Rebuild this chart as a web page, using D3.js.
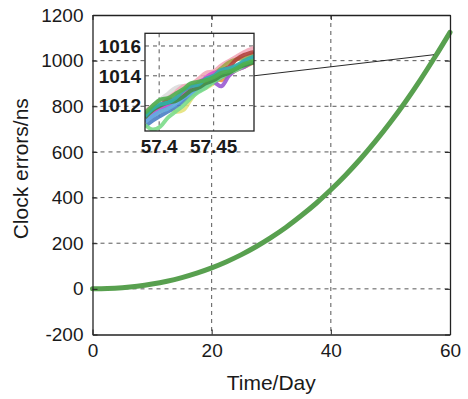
<!DOCTYPE html>
<html>
<head>
<meta charset="utf-8">
<script src="https://cdn.jsdelivr.net/npm/d3@7"></script>
<style>
  html, body { margin: 0; padding: 0; background: #fff; }
  svg { display: block; }
  text { font-family: "Liberation Sans", Arial, Helvetica, sans-serif; fill: #1a1a1a; }
</style>
</head>
<body>
<script>
// Accumulated clock error over two months
const days = [0, 2.5, 5, 7.5, 10, 12.5, 15, 17.5, 20, 22.5, 25, 27.5, 30, 32.5, 35,
              37.5, 40, 42.5, 45, 47.5, 50, 52.5, 55, 57.5, 60];
const clockError = [0, 1.2, 5, 11.5, 21, 33.5, 49.5, 69, 92, 119, 150, 185.5, 225.5, 270, 320,
                    374, 434, 499, 570, 647, 730, 819, 915, 1017, 1124];

const xTicks = [0, 20, 40, 60];
const yTicks = [-200, 0, 200, 400, 600, 800, 1000, 1200];

// Zoomed detail around day 57.4: one trace per clock solution
const zoomDays = [57.387, 57.394, 57.401, 57.408, 57.415, 57.422, 57.429, 57.436, 57.443,
                  57.450, 57.457, 57.464, 57.471, 57.478, 57.487];
const zoomTraces = [
  [1011.3, 1011.6, 1011.9, 1012.0, 1011.6, 1011.7, 1012.4, 1013.0, 1013.2, 1013.5, 1013.9, 1014.2, 1014.5, 1014.9, 1015.2],
  [1011.5, 1011.8, 1012.4, 1012.8, 1013.2, 1013.3, 1012.9, 1013.1, 1013.6, 1013.8, 1014.1, 1014.3, 1014.6, 1014.9, 1015.3],
  [1011.6, 1012.0, 1012.3, 1012.5, 1012.9, 1013.3, 1013.4, 1013.8, 1014.2, 1014.3, 1014.7, 1015.0, 1015.3, 1015.6, 1015.9],
  [1010.9, 1011.3, 1011.6, 1011.9, 1012.3, 1012.6, 1013.0, 1013.2, 1013.5, 1013.9, 1013.7, 1014.1, 1014.4, 1014.6, 1014.9],
  [1011.1, 1011.5, 1011.7, 1012.1, 1012.5, 1012.7, 1013.0, 1013.5, 1013.8, 1014.1, 1014.5, 1014.9, 1015.1, 1015.2, 1015.5],
  [1011.4, 1011.7, 1012.0, 1012.4, 1012.4, 1012.8, 1013.2, 1013.5, 1013.8, 1013.9, 1014.3, 1014.6, 1015.1, 1015.4, 1015.6],
  [1011.0, 1011.3, 1011.8, 1012.0, 1012.3, 1012.5, 1012.9, 1013.5, 1013.8, 1013.6, 1013.3, 1014.0, 1014.4, 1014.6, 1015.0],
  [1011.2, 1011.6, 1011.9, 1012.1, 1012.5, 1012.8, 1013.0, 1013.3, 1013.9, 1014.2, 1014.3, 1014.5, 1014.6, 1014.9, 1015.1],
  [1010.6, 1011.0, 1011.3, 1011.6, 1011.9, 1012.3, 1012.7, 1013.0, 1013.3, 1013.6, 1013.9, 1014.2, 1014.5, 1014.8, 1015.0],
  [1010.9, 1011.3, 1011.6, 1011.8, 1012.1, 1012.5, 1012.8, 1013.0, 1013.3, 1013.7, 1014.0, 1014.3, 1014.6, 1014.8, 1015.2],
  [1010.7, 1010.4, 1010.6, 1011.2, 1011.6, 1012.0, 1012.5, 1012.9, 1013.2, 1013.6, 1013.9, 1014.2, 1014.4, 1014.7, 1015.1],
  [1011.2, 1011.7, 1012.0, 1012.2, 1012.3, 1012.6, 1013.0, 1013.2, 1013.5, 1013.7, 1014.0, 1014.2, 1014.5, 1014.7, 1014.9],
  [1011.3, 1011.8, 1012.1, 1012.2, 1012.5, 1013.0, 1013.3, 1013.4, 1013.8, 1014.0, 1014.4, 1014.5, 1014.7, 1015.0, 1015.3],
  [1011.5, 1012.0, 1012.4, 1012.5, 1012.8, 1013.1, 1013.5, 1013.6, 1013.7, 1013.9, 1014.2, 1014.3, 1014.5, 1014.8, 1015.0]
];
const traceColors = ["#e4e27a", "#dcdcdc", "#f2a7b8", "#f0913a", "#a3a347", "#b0403c",
                     "#9a5ad2", "#d451cf", "#4a80c4", "#62aee6", "#7bdc8a", "#3f8f45",
                     "#2fb0aa", "#4fb050"];

const zoomXTicks = [57.4, 57.45];
const zoomYTicks = [1012, 1014, 1016];
const zoomXDomain = [57.387, 57.487];
const zoomYDomain = [1010.3, 1016.85];
const zoomAnchor = [57.3, 1026];   // point on the main curve the inset points to

const W = 468, H = 399;
const svg = d3.select("body").append("svg").attr("width", W).attr("height", H);

const plot = { left: 92.5, right: 450, top: 15, bottom: 334.5 };
const x = d3.scaleLinear().domain([0, 60]).range([plot.left, plot.right]);
const y = d3.scaleLinear().domain([-200, 1200]).range([plot.bottom, plot.top]);

const gridColor = "#444";
const dash = "4,4";
const fmt = d => String(d);

// dashed grid
svg.append("g").selectAll("line").data(xTicks.filter(d => d > 0 && d < 60)).join("line")
  .attr("x1", d => x(d)).attr("x2", d => x(d))
  .attr("y1", plot.top).attr("y2", plot.bottom)
  .attr("stroke", gridColor).attr("stroke-width", 0.9).attr("stroke-dasharray", dash);
svg.append("g").selectAll("line").data(yTicks.filter(d => d > -200 && d < 1200)).join("line")
  .attr("x1", plot.left).attr("x2", plot.right)
  .attr("y1", d => y(d)).attr("y2", d => y(d))
  .attr("stroke", gridColor).attr("stroke-width", 0.9).attr("stroke-dasharray", dash);

// main curve
const line = d3.line().x((d, i) => x(days[i])).y(d => y(d)).curve(d3.curveCatmullRom);
svg.append("path").datum(clockError)
  .attr("d", line).attr("fill", "none")
  .attr("stroke", "#58a04f").attr("stroke-width", 5).attr("stroke-linecap", "round");

// axes with inward ticks and a box
const tickLen = 5;
const axB = svg.append("g").attr("transform", `translate(0,${plot.bottom})`)
  .call(d3.axisBottom(x).tickValues(xTicks).tickFormat(fmt).tickSizeInner(-tickLen).tickSizeOuter(0).tickPadding(10));
const axL = svg.append("g").attr("transform", `translate(${plot.left},0)`)
  .call(d3.axisLeft(y).tickValues(yTicks).tickFormat(fmt).tickSizeInner(-tickLen).tickSizeOuter(0).tickPadding(10));
svg.append("g").attr("transform", `translate(0,${plot.top})`)
  .call(d3.axisTop(x).tickValues(xTicks).tickSizeInner(-tickLen).tickSizeOuter(0).tickFormat(""));
svg.append("g").attr("transform", `translate(${plot.right},0)`)
  .call(d3.axisRight(y).tickValues(yTicks).tickSizeInner(-tickLen).tickSizeOuter(0).tickFormat(""));
svg.selectAll(".domain").attr("stroke", "#222").attr("stroke-width", 1.3);
svg.selectAll(".tick line").attr("stroke", "#222");
[axB, axL].forEach(a => a.selectAll("text")
  .style("font-size", "19px").style("font-family", "'Liberation Sans', Arial, sans-serif").attr("fill", "#1a1a1a"));
axB.selectAll("text").attr("dy", "0.71em").attr("y", 9);
axL.selectAll("text").attr("x", -9);

// axis titles
svg.append("text").attr("x", x(30)).attr("y", 390)
  .attr("text-anchor", "middle").style("font-size", "21px").text("Time/Day");
svg.append("text")
  .attr("transform", `translate(28,${(plot.top + plot.bottom) / 2 - 6}) rotate(-90)`)
  .attr("text-anchor", "middle").style("font-size", "21px").text("Clock errors/ns");

// inset
const inset = { left: 145, right: 254, top: 33.3, bottom: 131 };
const zx = d3.scaleLinear().domain(zoomXDomain).range([inset.left, inset.right]);
const zy = d3.scaleLinear().domain(zoomYDomain).range([inset.bottom, inset.top]);

// connector from the inset to the zoomed spot on the curve
svg.append("line")
  .attr("x1", inset.right).attr("y1", zy(1014))
  .attr("x2", x(zoomAnchor[0])).attr("y2", y(zoomAnchor[1]))
  .attr("stroke", "#111").attr("stroke-width", 0.9);

svg.append("rect")
  .attr("x", inset.left).attr("y", inset.top)
  .attr("width", inset.right - inset.left).attr("height", inset.bottom - inset.top)
  .attr("fill", "#fff");

svg.append("clipPath").attr("id", "insetClip").append("rect")
  .attr("x", inset.left).attr("y", inset.top)
  .attr("width", inset.right - inset.left).attr("height", inset.bottom - inset.top);

const ig = svg.append("g");
ig.append("g").selectAll("line").data(zoomXTicks).join("line")
  .attr("x1", d => zx(d)).attr("x2", d => zx(d))
  .attr("y1", inset.top).attr("y2", inset.bottom)
  .attr("stroke", gridColor).attr("stroke-width", 0.9).attr("stroke-dasharray", dash);
ig.append("g").selectAll("line").data(zoomYTicks).join("line")
  .attr("x1", inset.left).attr("x2", inset.right)
  .attr("y1", d => zy(d)).attr("y2", d => zy(d))
  .attr("stroke", gridColor).attr("stroke-width", 0.9).attr("stroke-dasharray", dash);

const zline = d3.line().x((d, i) => zx(zoomDays[i])).y(d => zy(d)).curve(d3.curveCatmullRom);
ig.append("g").attr("clip-path", "url(#insetClip)")
  .selectAll("path").data(zoomTraces).join("path")
  .attr("d", zline).attr("fill", "none")
  .attr("stroke", (d, i) => traceColors[i]).attr("stroke-width", 4)
  .attr("stroke-linejoin", "round").attr("opacity", 0.9);

ig.append("rect")
  .attr("x", inset.left).attr("y", inset.top)
  .attr("width", inset.right - inset.left).attr("height", inset.bottom - inset.top)
  .attr("fill", "none").attr("stroke", "#222").attr("stroke-width", 1.3);

ig.append("g").selectAll("text").data(zoomYTicks).join("text")
  .attr("x", inset.left - 4).attr("y", d => zy(d)).attr("dy", "0.36em")
  .attr("text-anchor", "end").style("font-size", "19px").style("font-weight", "bold")
  .text(d => d);
ig.append("g").selectAll("text").data(zoomXTicks).join("text")
  .attr("x", d => zx(d)).attr("y", 153)
  .attr("text-anchor", "middle").style("font-size", "19px").style("font-weight", "bold")
  .text(d => d);
</script>
</body>
</html>
